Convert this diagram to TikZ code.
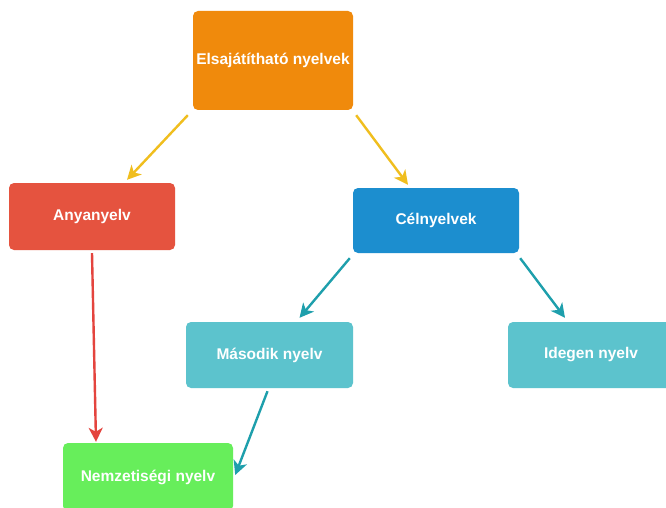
\documentclass[tikz,border=0pt]{standalone}
\usepackage{fontspec}
\setmainfont{Liberation Sans}
\usetikzlibrary{positioning,calc,arrows.meta}
\definecolor{orng}{HTML}{F08A0C}
\definecolor{rd}{HTML}{E5533F}
\definecolor{bl}{HTML}{1C8ECF}
\definecolor{tl}{HTML}{5CC3CD}
\definecolor{grn}{HTML}{67EE5B}
\definecolor{yarrow}{HTML}{F0BE1E}
\definecolor{rarrow}{HTML}{E4443E}
\definecolor{tarrow}{HTML}{1E9FAC}
\tikzset{box/.style={rectangle,rounded corners=5pt,text=white,
  font=\fontsize{15.5}{18}\selectfont\bfseries,inner sep=0pt},
  conn/.style={line width=2.4pt,-{Stealth[length=14pt,width=14pt,inset=4pt]}}}
\begin{document}
\begin{tikzpicture}[x=1pt,y=-1pt]
\useasboundingbox (0,0) rectangle (666,508); \clip (0,0) rectangle (666,508);
\fill[white] (0,0) rectangle (666,508);
\node[box,fill=orng,minimum width=160pt,minimum height=99pt] (top) at (273,60.5)
{Elsajátítható nyelvek}; \node[box,fill=rd,minimum width=166pt,minimum
height=67pt] (any) at (92,216.5) {Anyanyelv}; \node[box,fill=bl,minimum
width=166pt,minimum height=65pt] (cel) at (436,220.5) {Célnyelvek};
\node[box,fill=tl,minimum width=167pt,minimum height=66pt] (mas) at (269.5,355)
{Második nyelv}; \node[box,fill=tl,minimum width=166pt,minimum height=66pt]
(ide) at (591,355) {Idegen nyelv}; \node[box,fill=grn,minimum
width=170pt,minimum height=68pt] (nem) at (148,477) {Nemzetiségi nyelv};

\draw[conn,yarrow] ([shift={(-5,5)}]top.south west) -- ([shift={(35,-3)}]any.north);
\draw[conn,yarrow] ([shift={(3,5)}]top.south east) -- ([shift={(-28,-3)}]cel.north);
\draw[conn,rarrow] ([shift={(0,3)}]any.south) -- ([shift={(-52,-1)}]nem.north);
\draw[conn,tarrow] ([shift={(-3,5)}]cel.south west) -- ([shift={(30,-4)}]mas.north);
\draw[conn,tarrow] ([shift={(1,5)}]cel.south east) -- ([shift={(-26,-4)}]ide.north);
\draw[conn,tarrow] ([shift={(-2,3)}]mas.south) -- ([shift={(2,-2)}]nem.east);
\end{tikzpicture}
\end{document}
